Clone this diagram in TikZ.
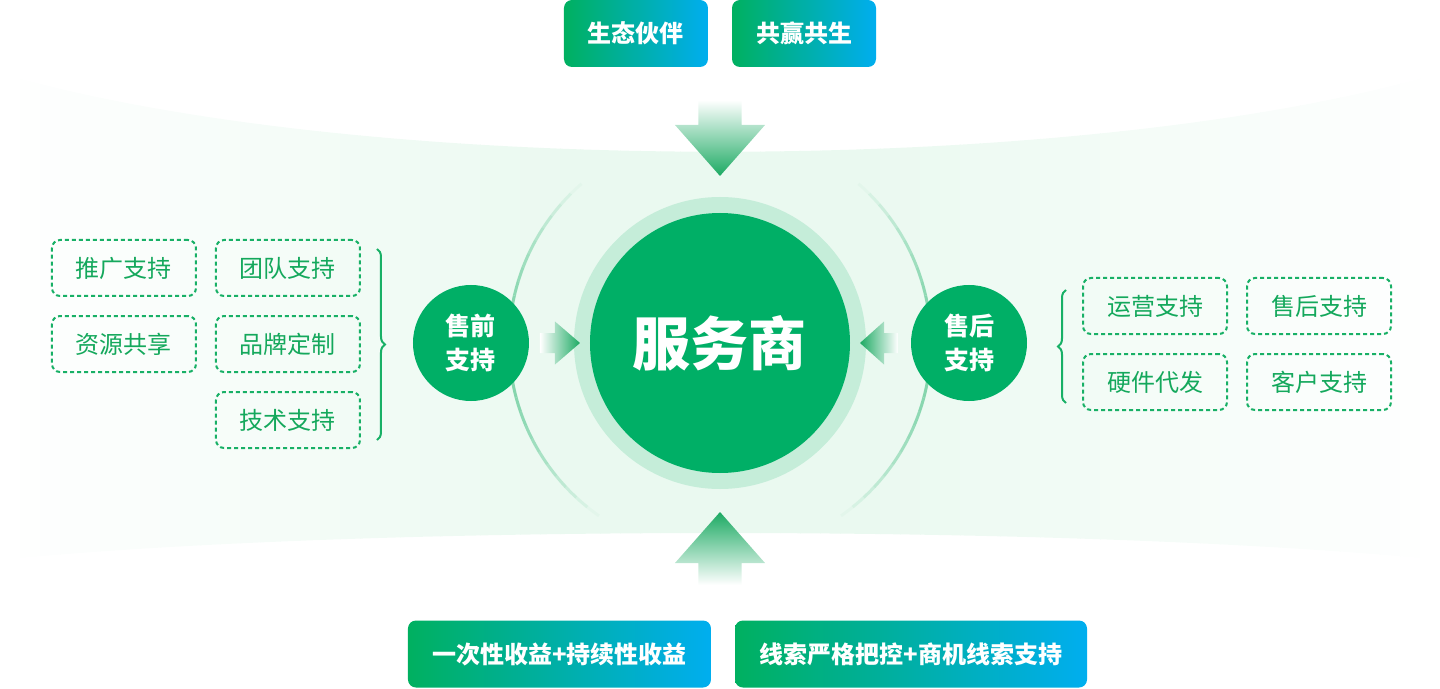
\documentclass[tikz,border=0pt]{standalone}
\usepackage{fontspec}
\newfontfamily\cjk{Noto Sans CJK SC}
\usetikzlibrary{decorations.pathreplacing}

\definecolor{pillgreen}{HTML}{00B060}
\definecolor{pillblue}{HTML}{00AEEF}
\definecolor{hubgreen}{HTML}{00AF66}
\definecolor{ringgreen}{HTML}{C5EDD9}
\definecolor{arcgreen}{HTML}{80D4AA}
\definecolor{linegreen}{HTML}{18B066}
\definecolor{textgreen}{HTML}{14A85C}
\definecolor{tipgreen}{HTML}{1CAA63}
\definecolor{bandgreen}{HTML}{EAF9F0}

\tikzset{
  pill/.style={rectangle, rounded corners=8pt, left color=pillgreen, right color=pillblue, text=white, font=\cjk\bfseries\fontsize{24}{28}\selectfont, minimum height=67pt, inner sep=0pt},
  tag/.style={rectangle, draw=linegreen, line width=2pt, dash pattern=on 4pt off 3pt, rounded corners=8pt, minimum width=144pt, minimum height=56pt, text=textgreen, font=\cjk\fontsize{24}{28}\selectfont},
  stage/.style={circle, fill=hubgreen, minimum size=116pt, inner sep=0pt, align=center, text=white, font=\cjk\bfseries\fontsize{25}{34}\selectfont},
  bracket/.style={decorate, decoration={brace, amplitude=8pt}, draw=linegreen, line width=2pt}
}

\begin{document}
\begin{tikzpicture}[x=1pt,y=1pt]
\useasboundingbox (-720,-345) rectangle (720,343);

% background band, fading out to both sides
\begin{scope}
\clip (-720,270) .. controls (-360,165) and (360,165) .. (720,270)
  -- (720,-217) .. controls (360,-181) and (-360,-181) .. (-720,-217) -- cycle;
\foreach \k in {0,...,71}{
  \pgfmathtruncatemacro\p{min(100,max(0,(720-abs(-710+20*\k))/5.7))}
  \fill[bandgreen!\p!white] (-720+20*\k,-345) rectangle ++(20.6,688);
}
\end{scope}

% fading arcs
\foreach \i in {0,...,25}{
  \pgfmathsetmacro\op{sin(180*(\i+0.5)/26)}
  \draw[arcgreen, line width=3pt, opacity=\op] (131+4*\i:211) arc[start angle=131+4*\i, delta angle=4, radius=211];
  \draw[arcgreen, line width=3pt, opacity=\op] (-55+4*\i:211) arc[start angle=-55+4*\i, delta angle=4, radius=211];
}

\node[circle, fill=ringgreen, minimum size=292pt] (ring) at (0,0) {};
\node[circle, fill=hubgreen, minimum size=260pt, text=white, font=\cjk\bfseries\fontsize{58}{64}\selectfont] (hub) at (0,0) {服务商};

\node[stage] (presale) at (-249,0) {售前\\支持};
\node[stage] (aftersale) at (249,0) {售后\\支持};

% block arrows
\shade[top color=white, bottom color=tipgreen] (-21.5,243) -- (21.5,243) -- (21.5,218) -- (45,218) -- (0,167) -- (-45,218) -- (-21.5,218) -- cycle;
\shade[top color=tipgreen, bottom color=white] (-21.5,-242) -- (21.5,-242) -- (21.5,-220) -- (45,-220) -- (0,-169) -- (-45,-220) -- (-21.5,-220) -- cycle;
\shade[left color=white, right color=tipgreen] (-180,10) -- (-165,10) -- (-165,21.5) -- (-140,0) -- (-165,-21.5) -- (-165,-10) -- (-180,-10) -- cycle;
\shade[left color=tipgreen, right color=white] (178,10) -- (164,10) -- (164,21.5) -- (140,0) -- (164,-21.5) -- (164,-10) -- (178,-10) -- cycle;

\node[pill, minimum width=144pt] (eco) at (-84,309.5) {生态伙伴};
\node[pill, minimum width=144pt] (winwin) at (84,309.5) {共赢共生};
\node[pill, minimum width=303pt] (income) at (-160.5,-311) {一次性收益+持续性收益};
\node[pill, minimum width=352pt] (leads) at (191,-311) {线索严格把控+商机线索支持};

\node[tag] (promo) at (-596,75) {推广支持};
\node[tag] (team) at (-432,75) {团队支持};
\node[tag] (share) at (-596,-1) {资源共享};
\node[tag] (brand) at (-432,-1) {品牌定制};
\node[tag] (tech) at (-432,-77) {技术支持};

\node[tag] (ops) at (435,37) {运营支持};
\node[tag] (service) at (599,37) {售后支持};
\node[tag] (hardware) at (435,-39) {硬件代发};
\node[tag] (client) at (599,-39) {客户支持};

\coordinate (lbTop) at (-343,94);
\coordinate (lbBot) at (-343,-97);
\coordinate (rbBot) at (346,-60);
\coordinate (rbTop) at (346,53);
\draw[bracket] (lbTop) -- (lbBot);
\draw[bracket] (rbBot) -- (rbTop);
\end{tikzpicture}
\end{document}
